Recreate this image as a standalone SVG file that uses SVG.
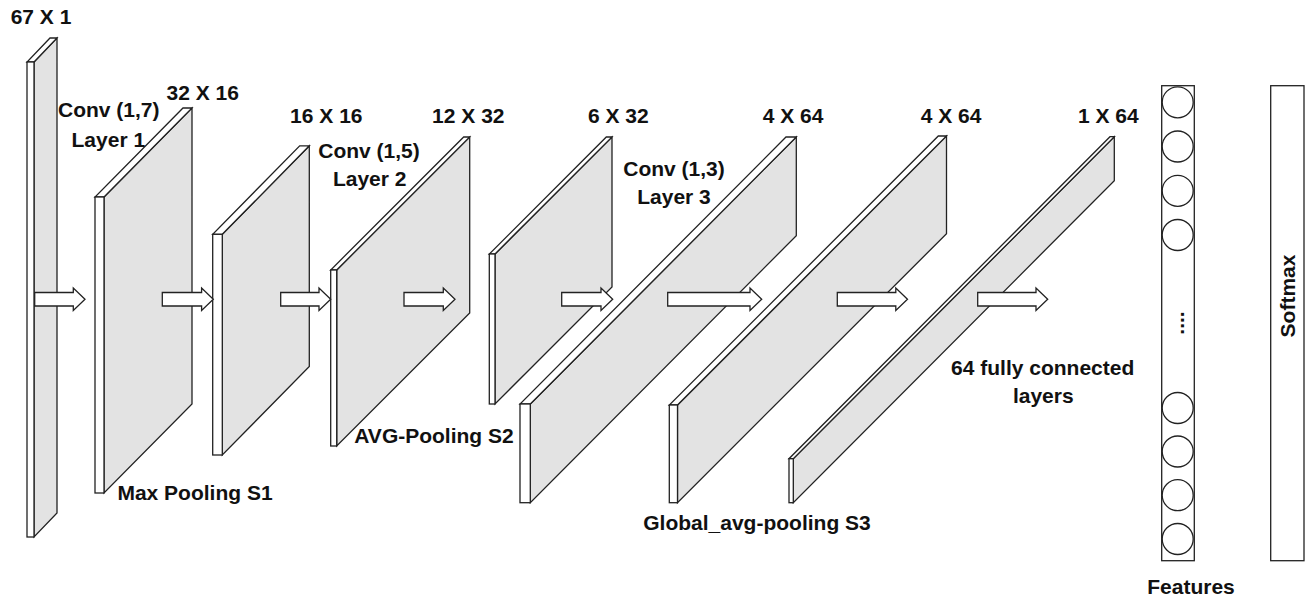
<svg xmlns="http://www.w3.org/2000/svg" width="1308" height="602" viewBox="0 0 1308 602">
<style>
.pn{fill:#e3e3e3;stroke:#222;stroke-width:1.3;stroke-linejoin:miter}
.wf{fill:#fff;stroke:#222;stroke-width:1.3;stroke-linejoin:miter}
.ar{fill:#fff;stroke:#222;stroke-width:1.3;stroke-linejoin:miter}
.t{font-family:"Liberation Sans",Arial,sans-serif;font-weight:bold;font-size:21px;fill:#111;text-anchor:middle}
</style>
<rect width="1308" height="602" fill="#fff"/>
<g id="input">
<polygon class="pn" points="34,62 57,38 57,513 34,537"/>
<polygon class="wf" points="27,62 34,62 57,38 50,38"/>
<rect class="wf" x="27" y="62" width="7" height="475"/>
</g>
<g id="conv1">
<polygon class="pn" points="104,197 192,108 192,404 104,493"/>
<polygon class="wf" points="95,197 104,197 192,108 183,108"/>
<rect class="wf" x="95" y="197" width="9" height="296"/>
</g>
<g id="pool1">
<polygon class="pn" points="222.3,234.3 309.3,145.8 309.3,366.5 222.3,455"/>
<polygon class="wf" points="212.7,234.3 222.3,234.3 309.3,145.8 299.7,145.8"/>
<rect class="wf" x="212.7" y="234.3" width="9.6" height="220.7"/>
</g>
<g id="conv2">
<polygon class="pn" points="336.7,270 469.7,137 469.7,313 336.7,446"/>
<polygon class="wf" points="330.7,270 336.7,270 469.7,137 463.7,137"/>
<rect class="wf" x="330.7" y="270" width="6" height="176"/>
</g>
<g id="pool2">
<polygon class="pn" points="495,254 612,137 612,287 495,404"/>
<polygon class="wf" points="489.3,254 495,254 612,137 606.3,137"/>
<rect class="wf" x="489.3" y="254" width="5.7" height="150"/>
</g>
<g id="conv3">
<polygon class="pn" points="530.3,404 796.3,137 796.3,235.7 530.3,502.7"/>
<polygon class="wf" points="520,404 530.3,404 796.3,137 786,137"/>
<rect class="wf" x="520" y="404" width="10.3" height="98.7"/>
</g>
<g id="conv3b">
<polygon class="pn" points="677.5,405 946.5,136 946.5,233.7 677.5,502.7"/>
<polygon class="wf" points="669.3,405 677.5,405 946.5,136 938.3,136"/>
<rect class="wf" x="669.3" y="405" width="8.2" height="97.7"/>
</g>
<g id="gap">
<polygon class="pn" points="793.3,458.7 1114.3,136.7 1114.3,180.7 793.3,502.7"/>
<polygon class="wf" points="789,458.7 793.3,458.7 1114.3,136.7 1110,136.7"/>
<rect class="wf" x="789" y="458.7" width="4.3" height="44"/>
</g>
<g id="features">
<rect class="wf" x="1161.7" y="85.7" width="32.6" height="475"/>
<circle class="wf" cx="1177.7" cy="102.3" r="15.5"/>
<circle class="wf" cx="1177.7" cy="146.5" r="15.5"/>
<circle class="wf" cx="1177.7" cy="190.8" r="15.5"/>
<circle class="wf" cx="1177.7" cy="235" r="15.5"/>
<circle class="wf" cx="1177.7" cy="408" r="15.5"/>
<circle class="wf" cx="1177.7" cy="451.5" r="15.5"/>
<circle class="wf" cx="1177.7" cy="495.2" r="15.5"/>
<circle class="wf" cx="1177.7" cy="539" r="15.5"/>
<text class="t" transform="translate(1183.7,323) rotate(-90)">....</text>
<text class="t" x="1191" y="594">Features</text>
</g>
<g id="softmax">
<rect class="wf" x="1270.7" y="85.7" width="33.3" height="475"/>
<text class="t" transform="translate(1295,296) rotate(-90)">Softmax</text>
</g>
<g id="connectors">
<path class="ar" d="M34.7,292.5H73.3V288L85,299.2L73.3,310.5V306H34.7Z"/>
<path class="ar" d="M162.3,292.5H201.6V288L213.3,299.2L201.6,310.5V306H162.3Z"/>
<path class="ar" d="M280.7,292.5H319V288L330.7,299.2L319,310.5V306H280.7Z"/>
<path class="ar" d="M404,292.5H443.3V288L455,299.2L443.3,310.5V306H404Z"/>
<path class="ar" d="M561.7,292.5H601V288L612.7,299.2L601,310.5V306H561.7Z"/>
<path class="ar" d="M667.7,292.5H750V288L761.7,299.2L750,310.5V306H667.7Z"/>
<path class="ar" d="M837.3,292.5H895.8V288L907.5,299.2L895.8,310.5V306H837.3Z"/>
<path class="ar" d="M977.7,292.5H1036V288L1047.7,299.2L1036,310.5V306H977.7Z"/>
</g>
<g id="labels">
<text class="t" x="41" y="24">67 X 1</text>
<text class="t" x="202.7" y="100">32 X 16</text>
<text class="t" x="108.8" y="117.3">Conv (1,7)</text>
<text class="t" x="108.3" y="146.7">Layer 1</text>
<text class="t" x="326.3" y="123.3">16 X 16</text>
<text class="t" x="468.3" y="123.3">12 X 32</text>
<text class="t" x="369" y="158.3">Conv (1,5)</text>
<text class="t" x="369.7" y="186">Layer 2</text>
<text class="t" x="618.3" y="123.3">6 X 32</text>
<text class="t" x="793" y="123.3">4 X 64</text>
<text class="t" x="951" y="123.3">4 X 64</text>
<text class="t" x="1108.3" y="123.3">1 X 64</text>
<text class="t" x="674" y="176">Conv (1,3)</text>
<text class="t" x="674" y="204">Layer 3</text>
<text class="t" x="1042.7" y="375">64 fully connected</text>
<text class="t" x="1043.3" y="403.3">layers</text>
<text class="t" x="195" y="500">Max Pooling S1</text>
<text class="t" x="434" y="443">AVG-Pooling S2</text>
<text class="t" x="757" y="530">Global_avg-pooling S3</text>
</g>
</svg>
